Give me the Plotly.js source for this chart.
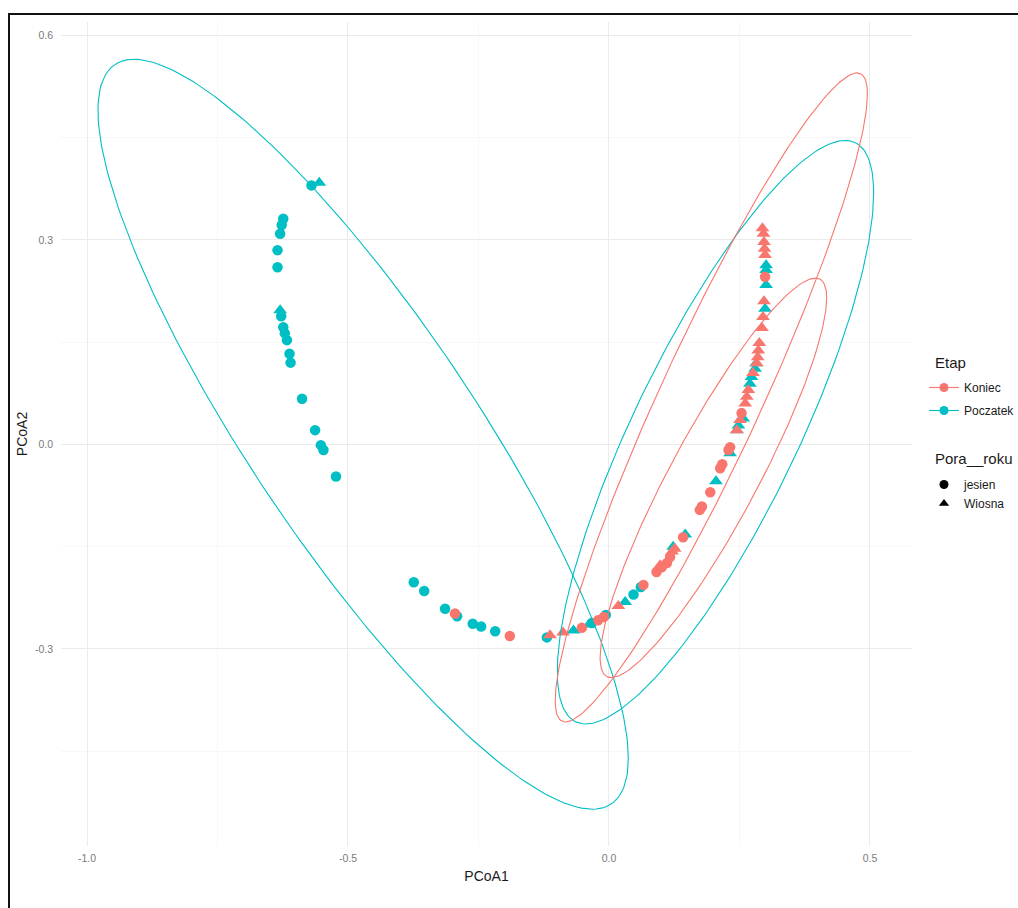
<!DOCTYPE html>
<html>
<head>
<meta charset="utf-8">
<script src="https://cdn.plot.ly/plotly-3.0.1.min.js"></script>
<style>
  html, body { margin: 0; padding: 0; background: #ffffff; }
  #wrap { position: relative; width: 1018px; height: 908px; overflow: hidden; }
  #chart { position: absolute; left: 0; top: 0; width: 1018px; height: 908px; }
  #frame { position: absolute; left: 8px; top: 13px; width: 1020px; height: 900px;
           border-left: 2px solid #111; border-top: 2px solid #111; pointer-events: none; }
</style>
</head>
<body>
<div id="wrap">
  <div id="chart"></div>
  <div id="frame"></div>
</div>
<script>
// ---- Data (PCoA scores) ----
// Etap = Poczatek, Pora__roku = jesien (circles)
const pocz_jes_x = [-0.570, -0.624, -0.627, -0.630, -0.635, -0.635, -0.628, -0.624, -0.621, -0.617, -0.612, -0.610, -0.588, -0.563, -0.552, -0.547, -0.523,
                    -0.374, -0.354, -0.314, -0.291, -0.261, -0.245, -0.218, -0.119, -0.033, -0.006, 0.047, 0.061];
const pocz_jes_y = [0.380, 0.331, 0.322, 0.309, 0.285, 0.260, 0.188, 0.172, 0.163, 0.153, 0.133, 0.120, 0.067, 0.021, -0.001, -0.008, -0.047,
                    -0.202, -0.215, -0.241, -0.252, -0.263, -0.267, -0.274, -0.283, -0.262, -0.250, -0.220, -0.209];
// Etap = Poczatek, Pora__roku = Wiosna (triangles)
const pocz_wio_x = [-0.555, -0.630, -0.068, -0.038, 0.031, 0.123, 0.146, 0.205, 0.232, 0.245, 0.248, 0.257, 0.270, 0.273, 0.280, 0.282, 0.299, 0.301, 0.301, 0.301];
const pocz_wio_y = [0.384, 0.197, -0.273, -0.264, -0.231, -0.150, -0.132, -0.054, -0.013, 0.021, 0.028, 0.038, 0.089, 0.099, 0.111, 0.119, 0.199, 0.234, 0.256, 0.263];
// Etap = Koniec, Pora__roku = jesien (circles)
const kon_jes_x = [-0.295, -0.190, -0.052, -0.021, -0.010, 0.066, 0.091, 0.101, 0.111, 0.117, 0.142, 0.174, 0.178, 0.194, 0.213, 0.217, 0.229, 0.232, 0.254, 0.299];
const kon_jes_y = [-0.248, -0.281, -0.269, -0.258, -0.253, -0.206, -0.187, -0.180, -0.174, -0.165, -0.136, -0.096, -0.091, -0.070, -0.035, -0.029, -0.008, -0.004, 0.046, 0.246];
// Etap = Koniec, Pora__roku = Wiosna (triangles)
const kon_wio_x = [-0.113, -0.088, 0.018, 0.098, 0.121, 0.126, 0.245, 0.251, 0.261, 0.264, 0.267, 0.276, 0.283, 0.285, 0.286, 0.288, 0.293, 0.295, 0.297, 0.299, 0.298, 0.297, 0.296, 0.294];
const kon_wio_y = [-0.280, -0.276, -0.237, -0.177, -0.157, -0.153, 0.021, 0.036, 0.060, 0.070, 0.080, 0.105, 0.119, 0.128, 0.138, 0.149, 0.171, 0.187, 0.210, 0.278, 0.287, 0.297, 0.309, 0.317];

// ---- Ellipse parameters (center, half-extents, correlation) ----
const ell_names  = ['Poczatek jesien', 'Poczatek Wiosna', 'Koniec jesien', 'Koniec Wiosna'];
const ell_etap   = ['Poczatek', 'Poczatek', 'Koniec', 'Koniec'];
const ell_cx     = [-0.471, 0.204, 0.200, 0.196];
const ell_cy     = [0.015, 0.018, -0.049, 0.069];
const ell_sx     = [0.508, 0.303, 0.217, 0.299];
const ell_sy     = [0.550, 0.428, 0.293, 0.476];
const ell_rho    = [-0.864, 0.820, 0.900, 0.934];

// ---- Labels / styling ----
const etap_title = 'Etap';
const pora_title = 'Pora__roku';
const etap_levels = ['Koniec', 'Poczatek'];
const pora_levels = ['jesien', 'Wiosna'];
const colors = { Koniec: '#F8766D', Poczatek: '#00BFC4' };
const symbols = { jesien: 'circle', Wiosna: 'triangle-up' };
const xTicks = [-1.0, -0.5, 0.0, 0.5];
const yTicks = [-0.3, 0.0, 0.3, 0.6];

function ellipse(cx, cy, sx, sy, rho, n) {
  const phi = Math.acos(rho);
  const xs = [], ys = [];
  for (let i = 0; i <= n; i++) {
    const t = 2 * Math.PI * i / n;
    xs.push(cx + sx * Math.cos(t));
    ys.push(cy + sy * Math.cos(t + phi));
  }
  return { xs, ys };
}

function pts(x, y, etap, pora) {
  return {
    type: 'scatter', mode: 'markers', x: x, y: y, showlegend: false, hoverinfo: 'x+y',
    marker: { color: colors[etap], symbol: symbols[pora], size: pora === 'jesien' ? 10.5 : 12,
              line: { width: 0 } }
  };
}

const traces = [];
traces.push(pts(pocz_jes_x, pocz_jes_y, 'Poczatek', 'jesien'));
traces.push(pts(pocz_wio_x, pocz_wio_y, 'Poczatek', 'Wiosna'));
traces.push(pts(kon_jes_x, kon_jes_y, 'Koniec', 'jesien'));
traces.push(pts(kon_wio_x, kon_wio_y, 'Koniec', 'Wiosna'));

for (let i = 0; i < ell_names.length; i++) {
  const e = ellipse(ell_cx[i], ell_cy[i], ell_sx[i], ell_sy[i], ell_rho[i], 240);
  traces.push({
    type: 'scatter', mode: 'lines', x: e.xs, y: e.ys, showlegend: false, hoverinfo: 'skip',
    line: { color: colors[ell_etap[i]], width: 1.1 }, name: ell_names[i]
  });
}

// legend entries
etap_levels.forEach((lv, i) => {
  traces.push({
    type: 'scatter', mode: 'lines+markers', x: [null], y: [null], name: lv,
    legend: 'legend', legendgroup: 'e' + i, showlegend: true,
    line: { color: colors[lv], width: 1.1 },
    marker: { color: colors[lv], symbol: 'circle', size: 9 }
  });
});
pora_levels.forEach((lv, i) => {
  traces.push({
    type: 'scatter', mode: 'markers', x: [null], y: [null], name: lv,
    legend: 'legend2', legendgroup: 'p' + i, showlegend: true,
    marker: { color: '#000000', symbol: symbols[lv], size: 9 }
  });
});

const fontFam = 'Liberation Sans, Arial, sans-serif';
const gridMajor = '#EBEBEB';
const gridMinor = '#F1F1F1';
const M = { l: 61, r: 106, t: 22, b: 62 };
const PW = 1018 - M.l - M.r, PH = 908 - M.t - M.b;

const layout = {
  width: 1018, height: 908, autosize: false,
  paper_bgcolor: '#ffffff', plot_bgcolor: '#ffffff',
  margin: { l: M.l, r: M.r, t: M.t, b: M.b, pad: 0, autoexpand: false },
  font: { family: fontFam, color: '#222' },
  showlegend: true,
  xaxis: {
    range: [-1.0498, 0.5805], tickvals: xTicks, ticktext: xTicks.map(v => v.toFixed(1)),
    showgrid: true, gridcolor: gridMajor, gridwidth: 1, zeroline: false, showline: false,
    ticks: '', ticklabelstandoff: 4, tickfont: { size: 10.5, color: '#7a7a7a', family: fontFam },
    minor: { tickvals: [-0.75, -0.25, 0.25], showgrid: true, gridcolor: gridMinor, gridwidth: 0.6, ticks: '' },
    title: { text: 'PCoA1', font: { size: 14, color: '#1a1a1a', family: fontFam }, standoff: 8 },
    automargin: false
  },
  yaxis: {
    range: [-0.589, 0.6197], tickvals: yTicks, ticktext: yTicks.map(v => v.toFixed(1)),
    showgrid: true, gridcolor: gridMajor, gridwidth: 1, zeroline: false, showline: false,
    ticks: '', ticklabelstandoff: 7, tickfont: { size: 10.5, color: '#7a7a7a', family: fontFam },
    minor: { tickvals: [-0.45, -0.15, 0.15, 0.45], showgrid: true, gridcolor: gridMinor, gridwidth: 0.6, ticks: '' },
    title: { text: 'PCoA2', font: { size: 14, color: '#1a1a1a', family: fontFam }, standoff: 4 },
    automargin: false
  },
  legend: {
    xref: 'container', yref: 'container',
    x: 924 / 1018, xanchor: 'left', y: 1 - 373 / 908, yanchor: 'top',
    font: { size: 12, color: '#1a1a1a', family: fontFam },
    tracegroupgap: 4, itemwidth: 30, bgcolor: 'rgba(0,0,0,0)'
  },
  legend2: {
    xref: 'container', yref: 'container',
    x: 924 / 1018, xanchor: 'left', y: 1 - 470 / 908, yanchor: 'top',
    font: { size: 12, color: '#1a1a1a', family: fontFam },
    tracegroupgap: 0, itemwidth: 30, bgcolor: 'rgba(0,0,0,0)'
  },
  annotations: [
    { text: etap_title, xref: 'paper', yref: 'paper', x: (933 - M.l) / PW, y: (908 - M.b - 362) / PH,
      xanchor: 'left', yanchor: 'middle', showarrow: false,
      font: { size: 15, color: '#1a1a1a', family: fontFam } },
    { text: pora_title, xref: 'paper', yref: 'paper', x: (933 - M.l) / PW, y: (908 - M.b - 458) / PH,
      xanchor: 'left', yanchor: 'middle', showarrow: false,
      font: { size: 15, color: '#1a1a1a', family: fontFam } }
  ]
};

Plotly.newPlot('chart', traces, layout, { displayModeBar: false, staticPlot: true });
</script>
</body>
</html>
